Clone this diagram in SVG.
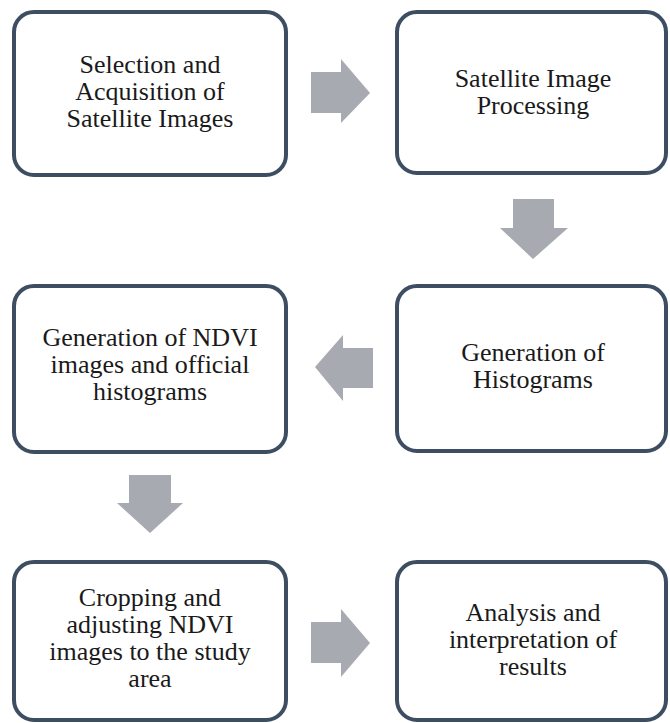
<svg xmlns="http://www.w3.org/2000/svg" width="670" height="723" viewBox="0 0 670 723">
<style>
.box{fill:#ffffff;stroke:#3d4e62;stroke-width:4}
.arr{fill:#a7abb1}
.t{font-family:'Liberation Serif','Times New Roman',serif;font-size:26px;fill:#1a1a1a;text-anchor:middle}
</style>
<rect width="670" height="723" fill="#ffffff"/>
<g id="connectors">
<polygon class="arr" points="311,72 341,72 341,59 370,93 341,123 341,113 311,113"/>
<polygon class="arr" points="513,199 554,199 554,228 568,228 533,259 500,228 513,228"/>
<polygon class="arr" points="373,348 343,348 343,335 315,367 343,401 343,388 373,388"/>
<polygon class="arr" points="129,475 171,475 171,503 183,503 150,533 117,503 129,503"/>
<polygon class="arr" points="311,622 341,622 341,609 370,643 341,677 341,663 311,663"/>
</g>
<g id="n1">
<rect class="box" x="14" y="12" width="272" height="163" rx="20"/>
<text class="t" x="150" y="73">Selection and</text>
<text class="t" x="150" y="100">Acquisition of</text>
<text class="t" x="150" y="127">Satellite Images</text>
</g>
<g id="n2">
<rect class="box" x="397" y="12" width="269" height="161" rx="20"/>
<text class="t" x="533" y="87">Satellite Image</text>
<text class="t" x="533" y="114">Processing</text>
</g>
<g id="n3">
<rect class="box" x="14" y="286" width="272" height="166" rx="20"/>
<text class="t" x="150" y="346">Generation of NDVI</text>
<text class="t" x="150" y="373">images and official</text>
<text class="t" x="150" y="400">histograms</text>
</g>
<g id="n4">
<rect class="box" x="397" y="286" width="269" height="165" rx="20"/>
<text class="t" x="533" y="361">Generation of</text>
<text class="t" x="533" y="388">Histograms</text>
</g>
<g id="n5">
<rect class="box" x="14" y="562" width="272" height="158" rx="20"/>
<text class="t" x="150" y="606">Cropping and</text>
<text class="t" x="150" y="633">adjusting NDVI</text>
<text class="t" x="150" y="660">images to the study</text>
<text class="t" x="150" y="687">area</text>
</g>
<g id="n6">
<rect class="box" x="397" y="562" width="269" height="158" rx="20"/>
<text class="t" x="533" y="621">Analysis and</text>
<text class="t" x="533" y="648">interpretation of</text>
<text class="t" x="533" y="675">results</text>
</g>
</svg>
